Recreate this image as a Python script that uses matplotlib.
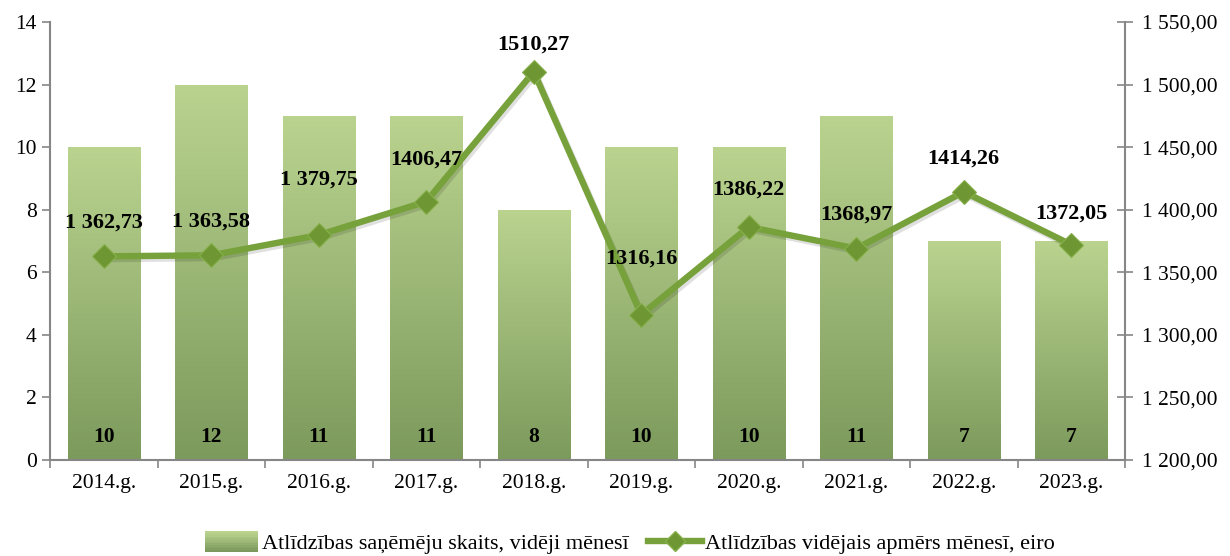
import numpy as np
import matplotlib
matplotlib.use("Agg")
import matplotlib.pyplot as plt
from matplotlib.colors import LinearSegmentedColormap
from matplotlib.legend_handler import HandlerBase
from matplotlib.patches import Rectangle
from matplotlib.lines import Line2D

years = ["2014.g.", "2015.g.", "2016.g.", "2017.g.", "2018.g.",
         "2019.g.", "2020.g.", "2021.g.", "2022.g.", "2023.g."]
counts = [10, 12, 11, 11, 8, 10, 10, 11, 7, 7]
amounts = [1362.73, 1363.58, 1379.75, 1406.47, 1510.27,
           1316.16, 1386.22, 1368.97, 1414.26, 1372.05]
amount_labels = ["1 362,73", "1 363,58", "1 379,75", "1406,47", "1510,27",
                 "1316,16", "1386,22", "1368,97", "1414,26", "1372,05"]
bar_name = "Atlīdzības saņēmēju skaits, vidēji mēnesī"
line_name = "Atlīdzības vidējais apmērs mēnesī, eiro"

# label vertical offsets (pixels) above line points (style)
label_offsets = [34, 34, 55, 42, 27, 56, 37, 34, 33, 31]

plt.rcParams['font.family'] = ['Liberation Serif', 'DejaVu Serif']

TOP_C = "#BAD38F"
BOT_C = "#7C9A5C"
LINE_C = "#77A13A"
MARK_C = "#6E9633"
SPINE_C = "#868686"
FS = 15.5

cmap = LinearSegmentedColormap.from_list("g", [BOT_C, TOP_C])

fig = plt.figure(figsize=(12.3, 5.56), dpi=100)
ax = fig.add_axes([50/1230, 1-460/556, 1075/1230, 438/556])
ax2 = ax.twinx()

x = np.arange(len(years))
bw = 0.67
bars = ax.bar(x, counts, width=bw, color="none", edgecolor="none", zorder=2)
grad = np.linspace(0, 1, 256).reshape(-1, 1)
for b in bars:
    x0, y0 = b.get_x(), b.get_y()
    w, h = b.get_width(), b.get_height()
    im = ax.imshow(grad, cmap=cmap, origin="lower", aspect="auto",
                   extent=[x0, x0 + w, y0, y0 + h], zorder=2)
    im.set_clip_path(b)

for xi, c in zip(x, counts):
    ax.text(xi, 0.75, str(c), ha="center", va="center", fontsize=15.5,
            fontweight="bold", zorder=4)

ax.set_xlim(-0.5, len(years) - 0.5)
ax.set_ylim(0, 14)
ax.set_yticks(range(0, 15, 2))
ax.set_xticks(x)
ax.set_xticklabels(years, fontsize=FS)
ax.set_xticks(np.arange(-0.5, len(years)), minor=True)
ax.tick_params(axis="x", which="major", length=0, pad=10)
ax.tick_params(axis="x", which="minor", length=6, color=SPINE_C, width=1.2, direction="out")
ax.tick_params(axis="y", labelsize=FS, length=6, color=SPINE_C, width=1.2, direction="out")

# line on secondary axis
ax2.plot(x, amounts, color=(0, 0, 0, 0.12), lw=4.6, zorder=3,
         transform=ax2.transData + matplotlib.transforms.ScaledTranslation(1.5/72, -2/72, fig.dpi_scale_trans))
ax2.plot(x, amounts, color=LINE_C, lw=4.6, marker="D", markersize=12,
         markerfacecolor=MARK_C, markeredgecolor="#86B04A", markeredgewidth=0.8, zorder=4)
ax2.set_ylim(1200, 1550)
ticks2 = np.arange(1200, 1551, 50)
ax2.set_yticks(ticks2)
ax2.set_yticklabels([f"{int(t) // 1000} {int(t) % 1000:03d},00" for t in ticks2], fontsize=FS)
ax2.tick_params(axis="y", length=12, color=SPINE_C, width=1.2, direction="inout", pad=6)

for xi, v, lab, off in zip(x, amounts, amount_labels, label_offsets):
    ax2.annotate(lab, (xi, v), xytext=(0, off * 0.72), textcoords="offset points",
                 ha="center", va="center", fontsize=16, fontweight="bold", zorder=5)

ax2.set_zorder(ax.get_zorder() + 1)
ax2.patch.set_visible(False)

for a in (ax, ax2):
    a.spines["top"].set_visible(False)
    for s in ("left", "right", "bottom"):
        a.spines[s].set_color(SPINE_C)
        a.spines[s].set_linewidth(1.5)
ax.spines["right"].set_visible(False)
ax2.spines["left"].set_visible(False)
ax2.spines["bottom"].set_visible(False)


class GradHandler(HandlerBase):
    def create_artists(self, legend, orig_handle, xdescent, ydescent,
                       width, height, fontsize, trans):
        n = 12
        arts = []
        for i in range(n):
            c = cmap(i / (n - 1))
            r = Rectangle((-xdescent, -ydescent + height * i / n), width,
                          height / n + 0.3, facecolor=c, edgecolor="none", transform=trans)
            arts.append(r)
        return arts


bar_handle = Rectangle((0, 0), 1, 1)
line_handle = Line2D([], [], color=LINE_C, lw=4.6, marker="D", markersize=10,
                     markerfacecolor=MARK_C, markeredgecolor="#86B04A")
fig.legend([bar_handle, line_handle], [bar_name, line_name],
           handler_map={Rectangle: GradHandler()},
           loc="center", bbox_to_anchor=(0.512, 1 - 543/556),
           ncol=2, frameon=False, fontsize=16, handlelength=2.4,
           handleheight=1.0, handletextpad=0.15, columnspacing=0.9)

fig.savefig("out.png", dpi=100)
